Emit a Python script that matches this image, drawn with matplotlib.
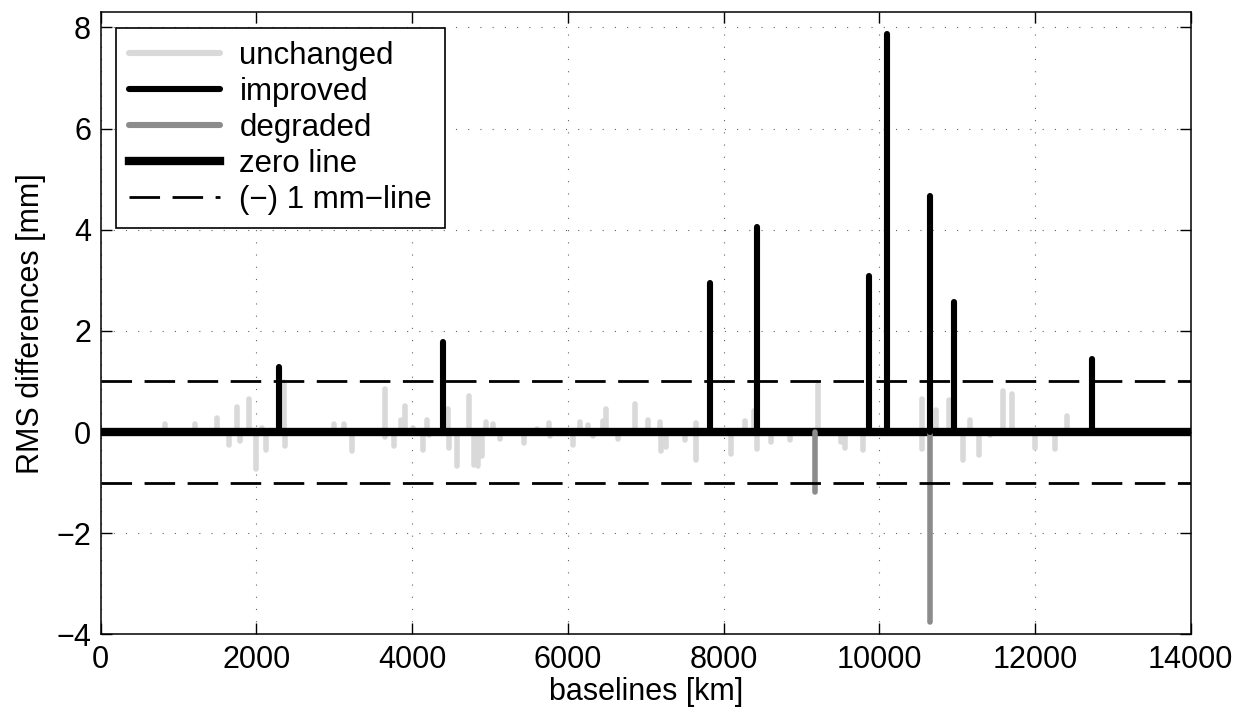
import numpy as np
import matplotlib.pyplot as plt
from matplotlib.lines import Line2D

plt.rcParams['font.family'] = ['Liberation Sans', 'DejaVu Sans']

# baselines [km] and RMS differences [mm]
unchanged_x = [830, 1207, 1493, 1648, 1746, 1794, 1905, 2000, 2072, 2123, 2355, 2370,
               2998, 3126, 3222, 3650, 3655, 3769, 3860, 3903, 4006, 4138, 4186, 4220,
               4464, 4470, 4576, 4726, 4798, 4842, 4897, 4945, 5038, 5129, 5437, 5600,
               5759, 5765, 6063, 6157, 6256, 6320, 6450, 6496, 6646, 6856, 7028, 7185,
               7191, 7260, 7499, 7640, 7649, 8099, 8270, 8395, 8430, 8610, 8858, 9209,
               9510, 9556, 9793, 10546, 10550, 10723, 10894, 11074, 11170, 11285, 11417,
               11588, 11704, 12000, 12253, 12408]
unchanged_y = [0.15, 0.16, 0.28, -0.25, 0.49, -0.17, 0.66, -0.73, 0.07, -0.35, 0.99, -0.27,
               0.15, 0.16, -0.38, 0.85, -0.10, -0.27, 0.24, 0.52, 0.07, -0.35, 0.24, -0.05,
               0.46, -0.32, -0.67, 0.72, -0.65, -0.67, -0.48, 0.19, 0.16, -0.13, -0.22, 0.05,
               0.18, -0.07, -0.25, 0.19, 0.14, -0.07, 0.22, 0.46, -0.14, 0.55, 0.24, 0.20,
               -0.38, -0.30, -0.15, 0.17, -0.55, -0.43, 0.21, 0.41, -0.34, -0.19, -0.15, 0.92,
               -0.20, -0.32, -0.35, 0.65, -0.34, 0.44, 0.64, -0.55, 0.24, -0.45, -0.05,
               0.82, 0.75, -0.32, -0.34, 0.32]

improved_x = [2290, 4392, 7829, 8430, 9865, 10101, 10649, 10958, 12729]
improved_y = [1.28, 1.78, 2.95, 4.05, 3.08, 7.88, 4.67, 2.57, 1.45]

degraded_x = [9171, 10649]
degraded_y = [-1.19, -3.75]

c_unch = '#d9d9d9'
c_impr = 'black'
c_degr = '#8c8c8c'

fig = plt.figure(figsize=(12.42, 7.19), dpi=100)
ax = fig.add_axes([0.0811, 0.1178, 0.8776, 0.8651])

for x, y in zip(unchanged_x, unchanged_y):
    ax.plot([x, x], [0, y], color=c_unch, lw=4, solid_capstyle='round', zorder=2)

ax.axhline(0, color='black', lw=6, zorder=3)

for x, y in zip(degraded_x, degraded_y):
    ax.plot([x, x], [0, y], color=c_degr, lw=4, solid_capstyle='round', zorder=4)
for x, y in zip(improved_x, improved_y):
    ax.plot([x, x], [0, y], color=c_impr, lw=4.4, solid_capstyle='round', zorder=4)

for yl in [1, -1]:
    ax.axhline(yl, color='black', lw=2, dashes=(11, 4.5), zorder=5)

ax.set_xlim(0, 14000)
ax.set_ylim(-4, 8.3)
ax.set_xticks(np.arange(0, 14001, 2000))
ax.set_yticks(np.arange(-4, 9, 2))
ax.grid(True, color='#666666', lw=0.8, dashes=(1, 10))
ax.tick_params(direction='in', length=8, width=1, top=True, right=True, labelsize=22)
ax.tick_params(axis='x', pad=8)
ax.tick_params(axis='y', pad=7)
for s in ax.spines.values():
    s.set_linewidth(1.1)
ax.set_xlabel('baselines [km]', fontsize=22, labelpad=1)
ax.set_ylabel('RMS differences [mm]', fontsize=22, labelpad=7)

handles = [Line2D([], [], color=c_unch, lw=4.4, solid_capstyle='round'),
           Line2D([], [], color=c_impr, lw=4.4, solid_capstyle='round'),
           Line2D([], [], color=c_degr, lw=4.4, solid_capstyle='round'),
           Line2D([], [], color='black', lw=6),
           Line2D([], [], color='black', lw=2, dashes=(11, 4.5))]
labels = ['unchanged', 'improved', 'degraded', 'zero line', '(\u2212) 1 mm\u2212line']
leg = ax.legend(handles, labels, loc='upper left', fontsize=22.5, frameon=True,
                fancybox=False, edgecolor='black', framealpha=1,
                handlelength=2.9, handletextpad=0.62, borderpad=0.42,
                borderaxespad=0.5, labelspacing=0.19)
leg.get_frame().set_linewidth(1.2)

fig.savefig('out.png', dpi=100)
